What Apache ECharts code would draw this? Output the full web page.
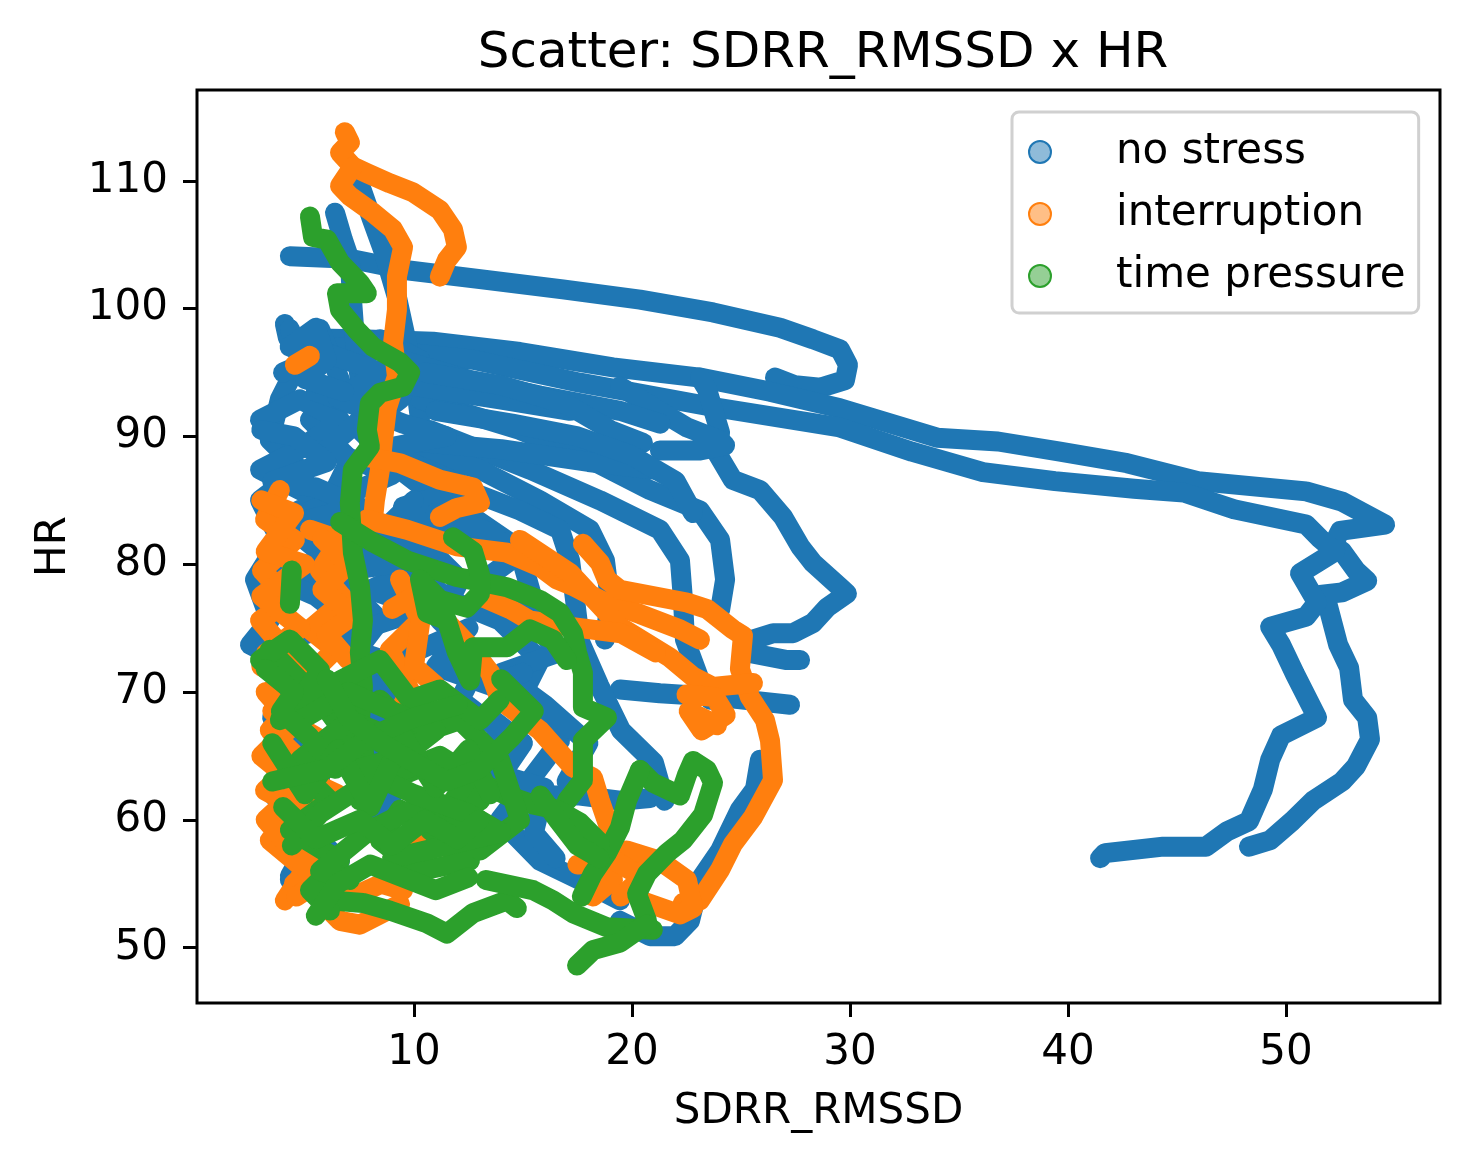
<!DOCTYPE html>
<html>
<head>
<meta charset="utf-8">
<title>Scatter: SDRR_RMSSD x HR</title>
<script src="https://cdn.jsdelivr.net/npm/echarts@6/dist/echarts.min.js"></script>
<style>
  html, body { margin: 0; padding: 0; background: #fff; }
  #main { width: 1470px; height: 1165px; }
</style>
</head>
<body>
<div id="main"></div>
<script>
// tick values of both axes
var xTicks = [10, 20, 30, 40, 50];
var yTicks = [50, 60, 70, 80, 90, 100, 110];

// ---- no stress: traces, [SDRR_RMSSD, HR] ----
var nsA = [[4.31,104.1],[7.06,103.9],[9.68,103.0],[13.03,102.3],[16.83,101.5],[20.37,100.7],[23.72,99.7],[26.79,98.5],[28.30,97.6],[29.54,96.8],[29.91,95.6],[29.77,94.4],[28.62,93.8],[27.48,94.0],[26.56,94.6]];
var nsB = [[4.08,98.8],[4.22,97.7],[7.52,97.6],[10.87,97.4],[14.86,96.6],[19.13,95.4],[23.12,94.6],[26.33,93.5],[29.54,92.2],[33.99,89.9],[36.79,89.6],[39.63,88.8],[42.71,87.9],[45.96,86.5],[50.92,85.7],[52.57,84.9],[54.54,83.1],[52.48,82.6],[52.16,81.5],[52.57,81.0],[53.21,79.5],[53.72,78.7],[52.57,77.8],[51.56,77.6],[51.88,77.0],[52.39,73.7],[52.89,71.9],[53.07,69.4],[53.72,68.0],[53.85,66.3],[53.21,64.2],[52.57,63.0],[51.24,61.5],[50.28,59.9],[49.27,58.4],[48.30,57.9]];
var nsC = [[4.77,97.2],[9.36,96.6],[12.71,96.0],[17.61,94.2],[23.72,92.3],[29.54,90.7],[32.84,88.8],[36.10,87.2],[39.40,86.5],[43.03,85.9],[45.32,85.6],[47.61,84.3],[50.92,83.1],[51.56,82.0],[52.25,81.0],[50.64,79.3],[51.42,77.0],[50.92,75.9],[49.27,75.1],[49.77,73.7],[50.41,71.4],[51.42,68.0],[49.77,66.6],[49.27,64.7],[48.94,62.4],[48.30,59.9],[47.29,59.1],[46.33,57.9],[44.36,57.9],[41.70,57.4],[41.47,57.0]];
var nsD = [[7.52,109.7],[8.07,107.0],[8.58,104.6],[9.22,100.9],[9.68,97.3],[10.05,94.4],[10.28,91.3]];
var nsE = [[6.38,107.5],[6.74,105.4],[7.06,103.8],[7.16,100.7],[7.29,97.6],[7.52,94.4],[7.75,91.3]];
var nsF = [[23.12,94.6],[23.44,93.7],[24.04,90.3],[23.90,88.7],[24.63,86.6],[25.87,85.8],[26.93,83.7],[27.71,81.4],[28.30,80.1],[29.54,78.2],[29.86,77.7],[28.94,76.6],[28.30,75.4],[27.39,74.6],[26.47,74.6],[25.55,74.1],[25.28,73.1],[27.11,72.5],[27.71,72.5]];
var nsG = [[19.45,93.9],[20.96,92.3],[22.52,90.7],[24.04,89.7],[24.27,89.3],[23.12,88.9],[21.28,88.9]];
var nsH = [[10.28,92.9],[14.86,90.5],[18.07,88.2],[20.83,85.8],[23.12,84.2],[24.04,81.9],[24.27,78.8],[24.04,76.4]];
var nsI = [[10.73,90.5],[15.32,87.4],[18.53,85.0],[21.28,82.7],[22.20,80.3],[22.34,77.2],[22.43,74.1],[23.12,70.9],[23.58,69.4]];
var nsJ = [[10.28,88.9],[13.03,87.4],[15.78,85.0],[18.07,82.7],[18.76,80.3],[18.99,77.2],[18.76,74.1]];
var nsK = [[11.19,86.6],[14.86,84.2],[16.70,82.7],[17.16,80.3],[17.39,77.2],[17.61,74.1]];
var nsL = [[19.45,70.2],[21.28,69.9],[24.04,69.6],[27.25,69.0]];
var nsM = [[19.45,52.1],[20.83,50.9],[21.97,50.9],[22.66,52.1],[23.12,55.3],[24.04,57.6],[24.95,60.8],[25.64,62.4],[25.87,64.7]];
var nsN = [[15.78,61.9],[17.61,61.9],[19.45,61.5],[20.83,61.7]];
var nsO = [[4.31,98.4],[4.77,96.0],[3.85,92.9],[3.39,89.7],[4.77,87.4],[2.94,85.0],[3.85,81.9],[2.71,78.8],[3.39,75.6],[2.48,73.7],[3.85,72.5],[4.77,69.4],[4.31,66.2],[5.23,63.1],[4.31,60.0],[4.77,56.8],[4.31,55.3]];
var nsP = [[5.69,98.4],[6.61,94.4],[5.23,91.3],[7.06,88.2],[6.15,85.0],[7.52,81.9],[6.61,78.8],[8.44,75.6],[7.06,72.5],[8.90,69.4],[7.52,66.2],[9.36,63.1],[8.44,60.0]];
var nsQ = [[8.44,97.6],[10.28,96.0],[9.36,92.9],[7.52,90.5],[9.36,87.4],[11.19,85.0],[10.28,81.9],[12.11,78.8],[11.19,75.6],[13.03,72.5],[12.11,69.4],[13.94,67.0],[13.03,64.7],[14.86,62.3]];
var nsR = [[2.94,91.3],[4.77,92.9],[6.61,91.3],[4.77,89.0],[2.94,87.4],[5.69,85.0],[3.85,83.5],[6.15,80.3],[3.39,77.2]];
var nsS = [[9.36,80.3],[11.65,77.2],[13.94,75.6],[15.78,72.5],[14.86,69.4],[16.70,66.2],[15.32,63.1],[13.94,60.0],[15.78,56.8],[17.61,55.3],[19.45,53.7]];
var nsT = [[3.85,66.2],[5.69,63.1],[4.77,60.0],[6.61,56.8],[4.31,55.6],[5.23,58.4],[3.39,62.3]];
var nsU = [[9.36,96.0],[12.57,94.4],[15.78,93.2],[19.45,92.0],[21.30,91.0]];
var nsV = [[9.82,94.0],[13.94,92.9],[17.16,92.0]];
var nsW = [[10.0,89.6],[14.0,89.0],[18.0,88.0],[21.0,87.4]];
var nsX = [[5.5,93.5],[8.0,92.0],[6.0,89.0],[9.0,87.0],[5.0,84.0],[8.5,83.0],[11.0,80.5],[8.0,78.0],[10.5,76.5],[6.0,74.0],[9.5,72.0]];
var nsY = [[12.0,84.5],[15.0,81.0],[13.0,78.5],[15.5,76.0],[16.5,73.0],[14.0,71.5],[16.0,69.0],[18.0,66.0],[17.0,63.0]];
var nsZ = [[17.6,74.0],[18.5,70.5],[19.5,67.0],[21.0,64.5],[21.5,61.5]];
var nsAA = [[3.0,90.5],[4.5,90.0],[6.0,88.0],[3.5,86.5],[5.5,86.0],[7.5,84.5],[4.0,83.0],[6.5,82.0],[9.0,80.0],[5.0,79.0],[7.0,77.0]];
var nsAB = [[4.0,95.0],[6.0,96.5],[8.5,95.0],[6.5,93.0],[9.5,91.0],[11.5,90.0],[8.5,89.0],[10.5,87.5],[12.5,86.0],[9.5,84.5],[11.0,83.0],[13.0,82.0]];
var nsAC = [[3.2,73.5],[5.0,74.5],[7.0,75.5],[5.5,77.5],[3.5,79.0],[6.0,80.5],[8.5,82.5],[10.0,85.0]];
var nsAD = [[8.5,72.0],[10.5,73.5],[12.5,75.0],[11.0,72.0],[13.5,70.5],[15.0,71.5]];
var nsAE = [[4.0,72.0],[3.5,68.0],[4.5,64.0],[3.8,61.0],[4.2,57.5]];
var nsAF = [[13.5,68.0],[15.0,66.0],[14.0,63.5],[16.0,62.5],[15.5,59.0],[16.5,57.0]];
var nsAG = [[10.5,95.0],[14.0,94.0],[17.0,92.5],[19.0,90.5],[20.5,89.5]];
var nsAH = [[11.0,92.0],[14.5,91.0],[17.5,90.0],[20.0,88.5],[22.0,86.5],[22.8,84.0]];
var nsAI = [[11.0,84.0],[13.5,82.5],[15.0,80.0],[15.5,77.0],[15.0,74.0]];
var nsAJ = [[4.3,97.0],[5.5,98.5],[6.0,96.0],[5.0,94.5],[6.8,93.5]];

// ---- interruption ----
var inA = [[6.83,113.8],[7.06,113.0],[6.61,112.2],[7.20,111.1],[7.84,110.6],[8.90,109.8],[9.95,109.1],[11.19,107.7],[11.79,106.2],[11.97,104.8],[11.51,103.8],[11.19,102.5]];
var inB = [[7.20,111.1],[6.61,109.6],[7.06,108.8],[8.12,107.5],[9.04,106.2],[9.50,104.8],[9.22,102.5],[9.22,99.9],[9.04,97.3],[9.22,94.7],[8.76,92.2],[8.58,89.7],[8.44,87.4],[8.21,85.0],[8.12,83.5]];
var inC = [[7.84,88.4],[9.36,87.9],[11.19,86.6],[12.71,86.0],[13.03,84.8],[11.97,84.4],[11.19,83.7]];
var inD = [[7.84,83.5],[9.68,82.7],[11.97,81.4],[14.27,80.9],[15.78,79.8],[16.56,78.8],[17.29,78.3],[18.53,77.2],[20.37,76.1],[22.20,74.9],[23.12,74.1]];
var inE = [[17.75,81.6],[18.53,80.1],[18.85,78.8],[19.45,78.0],[22.52,77.0],[23.44,76.5],[24.63,74.9],[25.09,74.4],[24.95,71.8],[25.41,69.6],[26.10,67.8],[26.33,66.2],[26.47,63.1],[25.55,60.2],[24.63,58.1],[24.04,56.1],[23.12,53.7],[22.34,53.5]];
var inF = [[14.86,81.9],[17.16,79.3],[19.45,75.1],[21.74,72.7],[22.80,71.2],[23.72,70.4],[25.55,70.7]];
var inG = [[22.5,69.8],[23.8,69.6],[24.3,68.2],[23.2,67.0],[22.6,68.5],[23.9,67.4]];
var inH = [[13.94,69.4],[15.78,67.0],[17.29,64.1],[18.21,63.3],[18.53,61.5],[18.99,59.2]];
var inI = [[19.13,55.3],[18.21,54.0],[19.77,57.6],[21.28,56.8],[22.52,55.3],[22.80,53.1],[22.20,52.6],[20.37,53.7]];
var inJ = [[3.85,85.8],[3.17,83.5],[4.54,81.9],[3.03,79.5],[4.31,77.2],[2.94,75.6],[4.08,73.3],[4.77,69.4],[3.39,67.0],[4.77,64.7],[3.17,62.3],[4.77,60.8],[3.39,58.4],[5.00,56.1],[4.08,53.7]];
var inK = [[5.23,82.7],[6.61,81.9],[5.69,79.5],[6.83,77.2],[5.23,74.9],[6.38,73.3],[5.00,71.0]];
var inL = [[9.36,78.8],[10.28,75.6],[8.90,73.3],[9.82,70.1],[9.13,67.8]];
var inM = [[5.69,53.7],[6.61,52.1],[7.52,51.8],[8.44,52.6],[9.36,53.4]];
var inN = [[11.5,75.5],[12.6,73.5],[13.5,71.5],[13.94,69.4]];
var inO = [[8.0,59.0],[9.5,58.5],[11.2,58.0],[12.3,57.5]];
var inP = [[4.54,95.6],[5.23,96.3]];
var inQ = [[13.03,77.5],[14.4,76.5],[15.3,75.6],[17.2,75.1],[19.5,74.6],[21.1,73.1]];
var inR = [[3.0,72.0],[5.5,70.0],[3.5,68.5],[6.0,66.0],[4.0,64.0],[6.5,62.0],[3.5,60.0],[6.0,57.0],[4.5,55.0]];
var inS = [[17.5,56.5],[19.0,57.0],[20.5,55.5],[19.5,54.0]];
var inT = [[3.0,85.0],[4.5,84.0],[3.2,81.0],[5.0,80.0],[3.0,77.5],[4.8,75.0],[3.2,73.0],[5.5,72.0]];
var inU = [[5.8,82.0],[7.0,80.0],[5.8,78.0],[7.2,76.0],[6.0,74.5],[7.0,72.5]];
var inV = [[3.2,70.0],[4.5,67.5],[3.0,65.0],[4.8,62.5],[3.2,60.0],[4.5,57.5],[5.5,55.0],[4.6,54.0]];
var inW = [[6.0,55.5],[7.2,54.0],[8.5,55.0],[9.5,54.5]];
var inX = [[9.0,76.5],[10.5,78.0],[10.0,72.0],[11.0,70.5]];

// ---- time pressure ----
var tpA = [[5.23,107.2],[5.37,105.6],[6.01,105.4],[6.61,103.6],[7.52,102.0],[7.84,101.2],[6.47,101.2],[6.61,99.9],[7.39,98.3],[8.12,97.0],[9.36,95.8],[9.82,95.0],[9.50,93.9],[8.44,93.4],[7.98,92.6],[7.84,90.5],[7.98,89.2],[7.20,87.4],[7.06,84.8],[7.20,80.9],[7.52,78.3],[7.66,75.6],[7.52,73.1],[7.66,70.4],[7.52,67.8],[7.75,64.7],[7.52,61.5]];
var tpB = [[6.61,83.3],[8.12,81.7],[9.68,80.3],[11.97,79.0],[14.27,78.2],[15.78,77.2],[16.70,76.2],[17.29,74.6],[17.48,73.1],[17.75,71.5],[17.75,68.8],[18.85,68.0],[17.75,66.2],[17.75,63.1],[17.02,61.5]];
var tpC = [[11.79,82.1],[12.71,81.0],[13.03,79.2],[13.03,77.7],[12.43,76.6],[11.19,77.2],[10.28,78.8],[10.60,76.2],[11.51,75.6],[11.97,73.1],[12.57,70.9],[12.71,73.5],[14.27,73.5],[15.32,74.9],[16.38,74.1],[17.02,72.5]];
var tpD = [[20.37,63.9],[20.96,62.9],[22.20,61.9],[22.52,63.5],[22.80,64.6],[23.44,63.9],[23.72,62.9],[23.26,60.4],[22.34,58.4],[21.61,57.4],[20.69,55.8],[20.23,54.2],[20.69,52.1]];
var tpE = [[20.37,63.9],[19.77,61.5],[19.45,59.4],[18.85,57.4],[18.21,55.8],[17.7,54.0]];
var tpF = [[6.15,53.7],[7.66,53.5],[8.90,52.9],[10.60,51.9],[11.51,51.1],[12.71,52.7],[14.27,53.7],[14.72,53.1]];
var tpG = [[13.3,55.3],[15.46,54.5],[16.38,53.7],[17.29,52.7],[18.85,51.6],[20.96,51.4]];
var tpH = [[17.48,48.6],[18.21,49.8],[19.45,50.4],[20.37,51.5],[20.69,51.8]];
var tpI = [[12.71,63.2],[14.27,61.9],[15.46,61.2],[16.56,60.8],[17.61,59.8],[18.53,58.2]];
var tpJ = [[4.40,79.5],[4.31,76.9]];
var tpK = [[3.39,73.3],[4.77,70.9],[3.85,67.8],[5.69,69.4],[7.06,66.2],[4.77,63.8],[6.15,61.5],[4.31,59.2],[6.61,56.8],[5.23,54.5],[6.15,52.9]];
var tpL = [[8.44,69.4],[10.28,66.2],[8.90,63.1],[11.19,64.7],[13.03,61.5],[10.73,59.2],[12.57,56.8],[10.28,56.0],[8.44,58.4],[9.36,60.8]];
var tpM = [[4.77,64.7],[7.06,67.8],[9.36,66.2],[12.11,67.8],[13.94,64.7],[14.86,60.0],[13.03,57.6],[10.73,61.5],[7.98,59.2],[5.69,56.0],[7.06,55.3]];
var tpN = [[2.94,72.5],[4.31,74.1],[5.69,71.7],[4.77,69.4],[6.61,70.9],[8.44,72.5],[9.82,69.4],[11.19,70.2],[13.03,67.8],[13.94,69.4]];
var tpO = [[4.4,58.0],[5.7,60.5],[7.5,62.5],[9.4,63.8],[11.2,65.0],[12.6,63.5],[11.6,61.0]];
var tpP = [[15.8,61.9],[16.6,60.0],[17.5,58.0],[18.5,57.0]];
var tpQ = [[5.0,68.0],[7.0,70.0],[9.0,68.5],[11.0,67.0],[9.5,65.0],[7.5,64.0],[10.0,62.0],[12.5,60.5],[14.0,59.0],[11.5,58.0],[9.0,57.0]];
var tpR = [[3.2,71.8],[4.5,70.0],[3.9,68.5],[5.2,66.5],[6.4,64.0]];
var tpS = [[3.5,66.0],[5.0,62.0],[6.5,65.5],[8.0,61.0],[9.5,66.5],[11.0,62.5],[12.5,65.5],[13.5,62.0]];
var tpT = [[4.0,61.0],[5.5,58.5],[7.5,60.0],[9.0,58.0],[10.5,60.0],[12.0,58.5],[13.0,60.0]];
var tpU = [[3.5,63.0],[6.0,64.0],[8.0,66.5],[10.0,68.0],[12.0,69.0]];
var tpV = [[5.5,52.5],[6.5,55.0],[8.0,56.5],[9.5,55.5],[11.0,54.5],[12.5,55.5]];
var tpW = [[6.0,71.0],[7.0,68.0],[8.5,66.0],[10.0,64.5],[11.5,63.0],[13.0,64.0],[14.5,66.5],[15.5,68.5],[14.0,71.0]];

var noStressPaths = [nsA, nsB, nsC, nsD, nsE, nsF, nsG, nsH, nsI, nsJ, nsK, nsL, nsM, nsN, nsO, nsP, nsQ, nsR, nsS, nsT, nsU, nsV, nsW, nsX, nsY, nsZ,
  nsAA, nsAB, nsAC, nsAD, nsAE, nsAF, nsAG, nsAH, nsAI, nsAJ];
var interruptionPaths = [inA, inB, inC, inD, inE, inF, inG, inH, inI, inJ, inK, inL, inM, inN, inO, inP, inQ, inR, inS, inT, inU, inV, inW, inX];
var timePressurePaths = [tpA, tpB, tpC, tpD, tpE, tpF, tpG, tpH, tpI, tpJ, tpK, tpL, tpM, tpN, tpO, tpP, tpQ, tpR, tpS, tpT, tpU, tpV, tpW];

var groups = [
  { name: 'no stress', color: '#1f77b4', fill: 'rgba(31,119,180,0.5)', paths: noStressPaths },
  { name: 'interruption', color: '#ff7f0e', fill: 'rgba(255,127,14,0.5)', paths: interruptionPaths },
  { name: 'time pressure', color: '#2ca02c', fill: 'rgba(44,160,44,0.5)', paths: timePressurePaths }
];

var FONT = 'DejaVu Sans';

// the dots are so dense they read as thick strokes, so each trace is a thick line
var series = [];
groups.forEach(function (g) {
  g.paths.forEach(function (p) {
    series.push({
      name: g.name,
      type: 'line',
      data: p,
      showSymbol: false,
      symbol: 'circle',
      silent: true,
      animation: false,
      itemStyle: { color: g.color },
      lineStyle: { width: 20, color: g.color, cap: 'round', join: 'round' }
    });
  });
});

var legendData = groups.map(function (g) {
  return {
    name: g.name,
    icon: 'circle',
    itemStyle: { color: g.fill, borderColor: g.color, borderWidth: 2, opacity: 1 }
  };
});

var chart = echarts.init(document.getElementById('main'));
chart.setOption({
  backgroundColor: '#fff',
  animation: false,
  title: {
    text: 'Scatter: SDRR_RMSSD x HR',
    left: 818,
    top: 24,
    textAlign: 'center',
    textStyle: { fontFamily: FONT, fontSize: 50, fontWeight: 'normal', color: '#000' }
  },
  legend: {
    data: legendData,
    orient: 'vertical',
    left: 1012,
    top: 112,
    padding: [18, 13, 15, 16],
    itemWidth: 84,
    itemHeight: 22,
    itemGap: 18,
    borderColor: '#d0d0d0',
    borderWidth: 3,
    borderRadius: 7,
    backgroundColor: '#fff',
    selectedMode: false,
    formatter: function (name) { return '{t|' + name + '}'; },
    textStyle: {
      fontFamily: FONT,
      fontSize: 42,
      color: '#000',
      lineHeight: 44,
      rich: { t: { fontFamily: FONT, fontSize: 42, color: '#000', lineHeight: 44, padding: [0, 0, 0, 29] } }
    }
  },
  grid: {
    left: 197,
    right: 30,
    top: 90,
    bottom: 162,
    show: true,
    borderColor: '#000',
    borderWidth: 3,
    backgroundColor: 'transparent'
  },
  xAxis: {
    type: 'value',
    min: 0.05,
    max: 57.06,
    name: 'SDRR_RMSSD',
    nameLocation: 'middle',
    nameGap: 88,
    nameTextStyle: { fontFamily: FONT, fontSize: 42, color: '#000' },
    axisLine: { show: false },
    splitLine: { show: false },
    axisTick: { show: true, inside: false, length: 14, customValues: xTicks, lineStyle: { color: '#000', width: 3 } },
    axisLabel: { margin: 29, customValues: xTicks, fontFamily: FONT, fontSize: 42, color: '#000' }
  },
  yAxis: {
    type: 'value',
    min: 45.67,
    max: 117.1,
    name: 'HR',
    nameLocation: 'middle',
    nameGap: 122,
    nameRotate: 90,
    nameTextStyle: { fontFamily: FONT, fontSize: 42, color: '#000' },
    axisLine: { show: false },
    splitLine: { show: false },
    axisTick: { show: true, inside: false, length: 14, customValues: yTicks, lineStyle: { color: '#000', width: 3 } },
    axisLabel: { margin: 29, customValues: yTicks, fontFamily: FONT, fontSize: 42, color: '#000' }
  },
  series: series
});
</script>
</body>
</html>
